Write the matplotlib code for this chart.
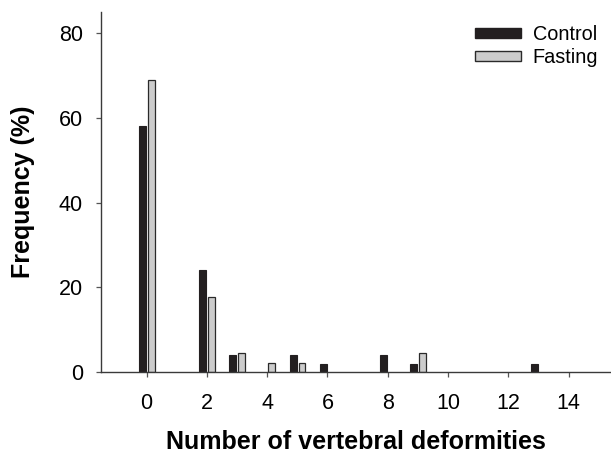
import numpy as np
import matplotlib.pyplot as plt
from matplotlib.patches import Patch

# values (% of fish)
control_x = [0, 2, 3, 5, 6, 8, 9, 13]
control_freq = [58, 24, 4, 4, 2, 4, 2, 2]
fasting_x = [0, 2, 3, 4, 5, 9]
fasting_freq = [69, 17.6, 4.4, 2.2, 2.2, 4.4]
xticks = [0, 2, 4, 6, 8, 10, 12, 14]
yticks = [0, 20, 40, 60, 80]

plt.rcParams['font.family'] = ['Liberation Sans', 'DejaVu Sans']

fig = plt.figure(figsize=(6.11, 4.55), dpi=100)
ax = fig.add_axes([0.1653, 0.1824, 0.8347, 0.7912])

w = 0.23
ax.bar(np.array(control_x) - 0.135, control_freq, width=w,
       color='#231f20', edgecolor='#231f20', linewidth=0.8)
ax.bar(np.array(fasting_x) + 0.155, fasting_freq, width=w,
       color='#cccccc', edgecolor='#2a2a2a', linewidth=0.9)

ax.set_xlim(-1.51, 15.4)
ax.set_ylim(0, 85)
ax.set_xticks(xticks)
ax.set_yticks(yticks)
ax.tick_params(labelsize=15.5, length=3.6, width=0.9, color='#555555', direction='out')
ax.tick_params(axis='x', pad=11.5)
ax.tick_params(axis='y', pad=9.4)
for s in ['top', 'right']:
    ax.spines[s].set_visible(False)
for s in ['left', 'bottom']:
    ax.spines[s].set_color('#3a3a3a')
    ax.spines[s].set_linewidth(1.0)

ax.set_xlabel('Number of vertebral deformities', fontsize=18, fontweight='bold')
ax.set_ylabel('Frequency (%)', fontsize=18, fontweight='bold')
ax.xaxis.set_label_coords(0.5, -0.161)
ax.yaxis.set_label_coords(-0.129, 0.5)

handles = [Patch(facecolor='#231f20', edgecolor='#231f20', label='Control'),
           Patch(facecolor='#cccccc', edgecolor='#2a2a2a', label='Fasting')]
fig.legend(handles=handles, loc='upper left', bbox_to_anchor=(475 / 611, 1 - 25 / 455),
           frameon=False, fontsize=14.3, handlelength=2.3, handleheight=0.4,
           handletextpad=0.6, labelspacing=0.2, borderpad=0, borderaxespad=0)

fig.savefig('out.png', dpi=100)
